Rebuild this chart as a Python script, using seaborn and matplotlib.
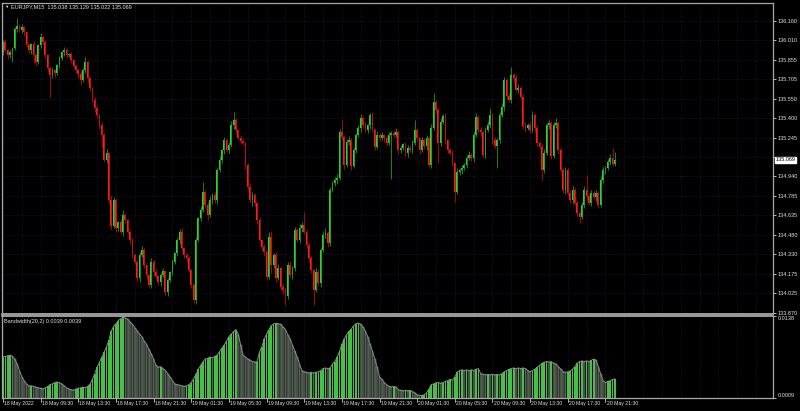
import numpy as np
import pandas as pd
import matplotlib
matplotlib.use("Agg")
import matplotlib.pyplot as plt
import matplotlib.transforms as mtransforms
import seaborn as sns

# EURJPY M15 candles, 18 May 2022 05:30 .. 20 May 2022 22:30
first_open = 135.916
closes = [
    135.995, 135.932, 135.893, 135.916, 135.948, 136.097, 136.121, 136.089, 136.113, 136.073,
    135.971, 135.932, 135.979, 135.893, 135.838, 135.971, 136.034, 135.995, 135.893, 135.791,
    135.736, 135.775, 135.751, 135.814, 135.869, 135.916, 135.932, 135.893, 135.901, 135.853,
    135.806, 135.775, 135.743, 135.696, 135.775, 135.838, 135.712, 135.633, 135.539, 135.476,
    135.421, 135.343, 135.264, 135.067, 135.122, 134.753, 134.549, 134.753, 134.533, 134.580,
    134.502, 134.635, 134.596, 134.502, 134.439, 134.321, 134.266, 134.140, 134.321, 134.360,
    134.242, 134.164, 134.085, 134.266, 134.187, 134.156, 134.109, 134.164, 134.195, 134.030,
    134.124, 134.187, 134.266, 134.336, 134.439, 134.502, 134.376, 134.321, 134.297, 134.203,
    134.085, 133.967, 134.439, 134.612, 134.674, 134.816, 134.714, 134.635, 134.753, 134.792,
    134.753, 134.989, 135.067, 135.146, 135.225, 135.146, 135.185, 135.343, 135.382, 135.303,
    135.240, 135.217, 135.201, 135.028, 134.855, 134.753, 134.792, 134.729, 134.596, 134.439,
    134.384, 134.344, 134.148, 134.462, 134.242, 134.321, 134.140, 134.219, 134.069, 134.046,
    133.998, 134.242, 134.164, 134.219, 134.517, 134.439, 134.533, 134.557, 134.502, 134.399,
    134.297, 134.203, 134.046, 134.187, 134.101, 134.360, 134.478, 134.494, 134.415, 134.832,
    134.887, 134.910, 134.926, 135.288, 135.248, 135.028, 135.209, 135.225, 135.020, 135.146,
    135.264, 135.319, 135.398, 135.343, 135.303, 135.343, 135.421, 135.303, 135.170, 135.264,
    135.240, 135.264, 135.240, 135.201, 135.264, 135.280, 135.264, 135.288, 135.146, 135.162,
    135.193, 135.122, 135.162, 135.146, 135.201, 135.303, 135.240, 135.146, 135.225, 135.177,
    135.240, 135.028, 135.319, 135.523, 135.460, 135.201, 135.366, 135.413, 135.225, 135.146,
    135.122, 135.044, 134.816, 134.973, 134.989, 135.005, 135.028, 135.083, 135.107, 135.083,
    135.264, 135.405, 135.303, 135.288, 135.107, 135.303, 135.343, 135.421, 135.225, 135.177,
    135.225, 135.421, 135.484, 135.696, 135.570, 135.539, 135.736, 135.712, 135.618, 135.633,
    135.563, 135.335, 135.319, 135.343, 135.303, 135.421, 135.319, 135.201, 135.170, 134.989,
    135.122, 135.343, 135.358, 135.099, 135.343, 135.358, 135.146, 134.989, 134.832, 134.989,
    134.808, 134.753, 134.832, 134.729, 134.651, 134.619, 134.714, 134.832, 134.784, 134.729,
    134.808, 134.777, 134.808, 134.714, 134.910, 134.989, 135.005, 135.052, 135.083, 135.038,
    135.069,
]
upper_wick = [
    .016, .024, .008, .016, .008, .016, .063, .016, .024, .008,
    .012, .016, .008, .024, .016, .012, .031, .008, .016, .008,
    .016, .024, .008, .012, .016, .008, .024, .016, .008, .012,
    .008, .016, .012, .024, .016, .039, .008, .016, .012, .024,
    .016, .008, .024, .016, .031, .008, .039, .024, .016, .012,
    .024, .039, .016, .008, .016, .024, .012, .016, .024, .031,
    .016, .008, .012, .031, .016, .024, .008, .016, .024, .012,
    .016, .008, .024, .012, .016, .024, .031, .008, .016, .024,
    .012, .016, .024, .008, .031, .079, .016, .024, .031, .016,
    .024, .016, .031, .008, .024, .016, .024, .031, .063, .016,
    .008, .016, .024, .012, .016, .031, .024, .016, .008, .024,
    .012, .024, .016, .039, .047, .016, .024, .031, .012, .024,
    .016, .024, .031, .016, .024, .016, .031, .024, .102, .016,
    .024, .016, .008, .031, .024, .016, .024, .039, .016, .024,
    .016, .024, .031, .024, .094, .016, .024, .031, .016, .024,
    .016, .024, .031, .016, .024, .012, .016, .024, .016, .031,
    .016, .024, .012, .016, .024, .016, .024, .031, .016, .024,
    .012, .016, .024, .016, .024, .079, .016, .008, .024, .016,
    .024, .016, .031, .071, .016, .024, .031, .016, .024, .012,
    .016, .024, .012, .031, .016, .024, .016, .024, .031, .016,
    .024, .031, .016, .024, .016, .024, .031, .055, .016, .024,
    .016, .024, .031, .024, .016, .024, .063, .016, .024, .031,
    .016, .024, .031, .016, .024, .031, .016, .024, .016, .024,
    .031, .016, .024, .016, .024, .039, .016, .024, .016, .024,
    .016, .024, .031, .016, .024, .016, .024, .031, .118, .016,
    .024, .016, .024, .016, .031, .024, .016, .024, .031, .079,
    .060,
]
lower_wick = [
    .024, .016, .031, .024, .079, .016, .024, .016, .024, .031,
    .016, .024, .031, .063, .031, .016, .024, .016, .024, .031,
    .173, .024, .031, .016, .024, .016, .031, .024, .016, .024,
    .016, .024, .031, .039, .016, .024, .031, .024, .016, .031,
    .024, .031, .094, .016, .024, .031, .024, .016, .031, .024,
    .016, .031, .024, .016, .031, .024, .016, .024, .031, .016,
    .024, .031, .016, .024, .031, .016, .024, .031, .016, .024,
    .031, .016, .024, .016, .024, .031, .016, .024, .031, .016,
    .024, .024, .031, .016, .024, .016, .024, .039, .016, .031,
    .024, .031, .016, .024, .031, .016, .024, .016, .031, .024,
    .016, .024, .016, .031, .024, .016, .047, .024, .031, .016,
    .024, .031, .024, .016, .063, .024, .031, .016, .024, .031,
    .071, .024, .016, .031, .024, .016, .024, .031, .016, .024,
    .031, .024, .118, .016, .024, .031, .016, .024, .031, .024,
    .016, .024, .031, .016, .024, .031, .016, .024, .031, .016,
    .024, .016, .031, .024, .016, .024, .031, .016, .024, .016,
    .024, .016, .031, .024, .016, .346, .024, .016, .031, .024,
    .016, .024, .031, .016, .024, .016, .024, .031, .016, .024,
    .031, .016, .024, .016, .024, .157, .024, .016, .031, .024,
    .016, .024, .079, .016, .024, .031, .016, .024, .016, .024,
    .031, .016, .024, .031, .016, .024, .016, .024, .031, .016,
    .173, .024, .016, .031, .024, .016, .024, .031, .016, .024,
    .016, .024, .031, .016, .024, .016, .031, .024, .016, .079,
    .024, .016, .031, .024, .016, .024, .031, .016, .024, .031,
    .016, .024, .031, .016, .024, .047, .016, .024, .031, .016,
    .024, .016, .031, .024, .016, .024, .031, .016, .024, .016,
    .016,
]
# Bandwidth(20,2) indicator values, one per candle
bandwidth = [
    .0073, .0074, .0075, .0076, .0074, .0070, .0062, .0052, .0042, .0036,
    .0031, .0028, .0028, .0027, .0026, .0025, .0024, .0023, .0025, .0027,
    .0030, .0031, .0033, .0034, .0033, .0031, .0028, .0025, .0023, .0022,
    .0021, .0023, .0024, .0025, .0026, .0025, .0027, .0031, .0038, .0047,
    .0057, .0065, .0073, .0081, .0089, .0100, .0113, .0121, .0125, .0130,
    .0133, .0135, .0134, .0132, .0128, .0124, .0119, .0114, .0109, .0105,
    .0098, .0093, .0085, .0078, .0070, .0060, .0057, .0058, .0055, .0052,
    .0047, .0042, .0036, .0031, .0030, .0029, .0028, .0027, .0028, .0030,
    .0033, .0039, .0046, .0054, .0060, .0066, .0070, .0071, .0073, .0072,
    .0074, .0076, .0081, .0087, .0092, .0098, .0105, .0109, .0113, .0116,
    .0108, .0092, .0076, .0073, .0070, .0068, .0066, .0065, .0066, .0081,
    .0089, .0101, .0109, .0116, .0122, .0125, .0126, .0125, .0124, .0120,
    .0116, .0108, .0101, .0092, .0082, .0073, .0062, .0052, .0050, .0049,
    .0048, .0049, .0048, .0049, .0050, .0052, .0055, .0056, .0055, .0056,
    .0062, .0066, .0073, .0082, .0093, .0101, .0108, .0113, .0117, .0122,
    .0125, .0126, .0124, .0120, .0113, .0105, .0093, .0082, .0070, .0057,
    .0042, .0038, .0033, .0030, .0027, .0026, .0027, .0026, .0022, .0021,
    .0020, .0021, .0020, .0021, .0019, .0017, .0014, .0013, .0013, .0014,
    .0017, .0023, .0030, .0031, .0033, .0033, .0032, .0033, .0035, .0036,
    .0038, .0037, .0042, .0049, .0052, .0053, .0052, .0053, .0052, .0053,
    .0052, .0054, .0055, .0047, .0046, .0045, .0046, .0045, .0046, .0045,
    .0046, .0045, .0047, .0050, .0052, .0054, .0055, .0056, .0055, .0056,
    .0055, .0056, .0055, .0052, .0050, .0052, .0054, .0057, .0060, .0063,
    .0065, .0066, .0065, .0066, .0063, .0062, .0058, .0054, .0050, .0049,
    .0050, .0051, .0054, .0058, .0063, .0066, .0067, .0066, .0067, .0066,
    .0068, .0070, .0068, .0058, .0046, .0036, .0033, .0035, .0036, .0038,
    .0039,
]
price_ticks = [136.160, 136.010, 135.855, 135.705, 135.550, 135.400, 135.245, 135.090,
               134.940, 134.785, 134.635, 134.480, 134.330, 134.175, 134.025, 133.870]
time_labels = ["18 May 2022", "18 May 09:30", "18 May 13:30", "18 May 17:30", "18 May 21:30",
               "19 May 01:30", "19 May 05:30", "19 May 09:30", "19 May 13:30", "19 May 17:30",
               "19 May 21:30", "20 May 01:30", "20 May 05:30", "20 May 09:30", "20 May 13:30",
               "20 May 17:30", "20 May 21:30"]
last_price = 135.069
bw_range = (0.0009, 0.0138)

sns.set_theme(style="dark")
plt.rcParams["font.family"] = ["Liberation Sans", "DejaVu Sans"]
plt.rcParams["axes.facecolor"] = "black"
plt.rcParams["figure.facecolor"] = "black"

W, H = 800, 411
fig = plt.figure(figsize=(W / 100, H / 100), dpi=100)
ax = fig.add_axes([2 / W, 1 - 314 / H, 771 / W, 311 / H])
ax2 = fig.add_axes([2 / W, 1 - 398 / H, 771 / W, 82.5 / H])

n = len(closes)
bars = np.arange(n)
c = np.array(closes)
o = np.r_[first_open, c[:-1]]
hi = np.maximum(o, c) + np.array(upper_wick)
lo = np.minimum(o, c) - np.array(lower_wick)
up = c >= o

GREEN, RED = "#2fd12f", "#ff1a1a"
ax.vlines(bars, lo, hi, colors=np.where(up, "#1f9a1f", "#b80c0c"), linewidth=0.6)
body_lo = np.minimum(o, c)
body_h = np.maximum(np.abs(c - o), 0.006)
ax.bar(bars, body_h, bottom=body_lo, width=0.76, color=np.where(up, GREEN, RED), linewidth=0)

xlim = (-0.43, 327.2)
grid_kw = dict(color="#1d1d48", linewidth=0.6, linestyle=(0, (1, 2)), zorder=0)
for a in (ax, ax2):
    a.set_xlim(*xlim)
    a.set_facecolor("black")
    for x in range(0, 330, 8):
        a.axvline(x, **grid_kw)
    a.set_xticks([])
    for s in a.spines.values():
        s.set_color("#a8a8a8")
        s.set_linewidth(0.9)
for p in price_ticks:
    ax.axhline(p, **grid_kw)

ax.set_ylim(133.860, 136.301)
ax.yaxis.tick_right()
ax.set_yticks(price_ticks)
ax.set_yticklabels([f"{p:.3f}" if abs(p - last_price) > 0.05 else "" for p in price_ticks])
ax.tick_params(axis="y", colors="#d8d8d8", labelsize=4.0, length=2, width=0.6, pad=1.5, labelcolor="#e0e0e0")
ax.spines["bottom"].set_linewidth(1.3)

tr = mtransforms.blended_transform_factory(ax.transAxes, ax.transData)
ax.text(1.0035, last_price, f"{last_price:.3f}", transform=tr, fontsize=4.0, color="black",
        va="center", ha="left",
        bbox=dict(boxstyle="square,pad=0.15", facecolor="white", edgecolor="white"))

# Bandwidth histogram
rising = np.r_[True, np.diff(bandwidth) >= 0]
df = pd.DataFrame({"bar": bars, "bw": bandwidth, "dir": np.where(rising, "up", "down")})
sns.barplot(data=df, x="bar", y="bw", hue="dir", palette={"up": "#33d433", "down": "#2d462d"},
            native_scale=True, dodge=False, width=0.72, errorbar=None, legend=False,
            linewidth=0, ax=ax2)
for patch in ax2.patches:
    if patch.get_facecolor()[1] < 0.5:
        patch.set_edgecolor("#8f8f8f")
        patch.set_linewidth(0.3)
sns.lineplot(x=bars, y=bandwidth, color="#8c8c8c", linewidth=0.7, ax=ax2)
ax2.set_xlim(*xlim)
ax2.set_ylim(*bw_range)
ax2.set_xlabel("")
ax2.set_ylabel("")
ax2.yaxis.tick_right()
ax2.set_yticks(list(bw_range))
ax2.set_yticklabels([f"{v:.4f}" for v in bw_range])
ax2.tick_params(axis="y", colors="#d8d8d8", labelsize=4.0, length=2, width=0.6, pad=1.5, labelcolor="#e0e0e0")
ylabels = ax2.get_yticklabels()
ylabels[0].set_va("bottom")
ylabels[1].set_va("top")
ax2.spines["top"].set_linewidth(1.3)

trx = mtransforms.blended_transform_factory(ax2.transData, ax2.transAxes)
for i, lab in enumerate(time_labels):
    xb = i * 16
    ax2.plot([xb, xb], [0, -0.045], transform=trx, color="#c8c8c8", linewidth=0.6, clip_on=False)
    ax2.text(xb + 0.5, -0.035, lab, transform=trx, fontsize=3.7, color="#e0e0e0",
             ha="left", va="top")

fig.text(11 / W, 1 - 6.5 / H, "EURJPY,M15  135.038 135.129 135.022 135.069",
         fontsize=4.0, color="#e0e0e0", va="center", ha="left")
fig.text(4.5 / W, 1 - 6.5 / H, "\u25bc", fontsize=3.2, color="#e0e0e0", va="center", ha="left")
fig.text(4 / W, 1 - 321 / H, "Bandwidth(20,2) 0.0039 0.0039",
         fontsize=4.0, color="#e0e0e0", va="center", ha="left")

fig.savefig("out.png", dpi=100, facecolor="black")
